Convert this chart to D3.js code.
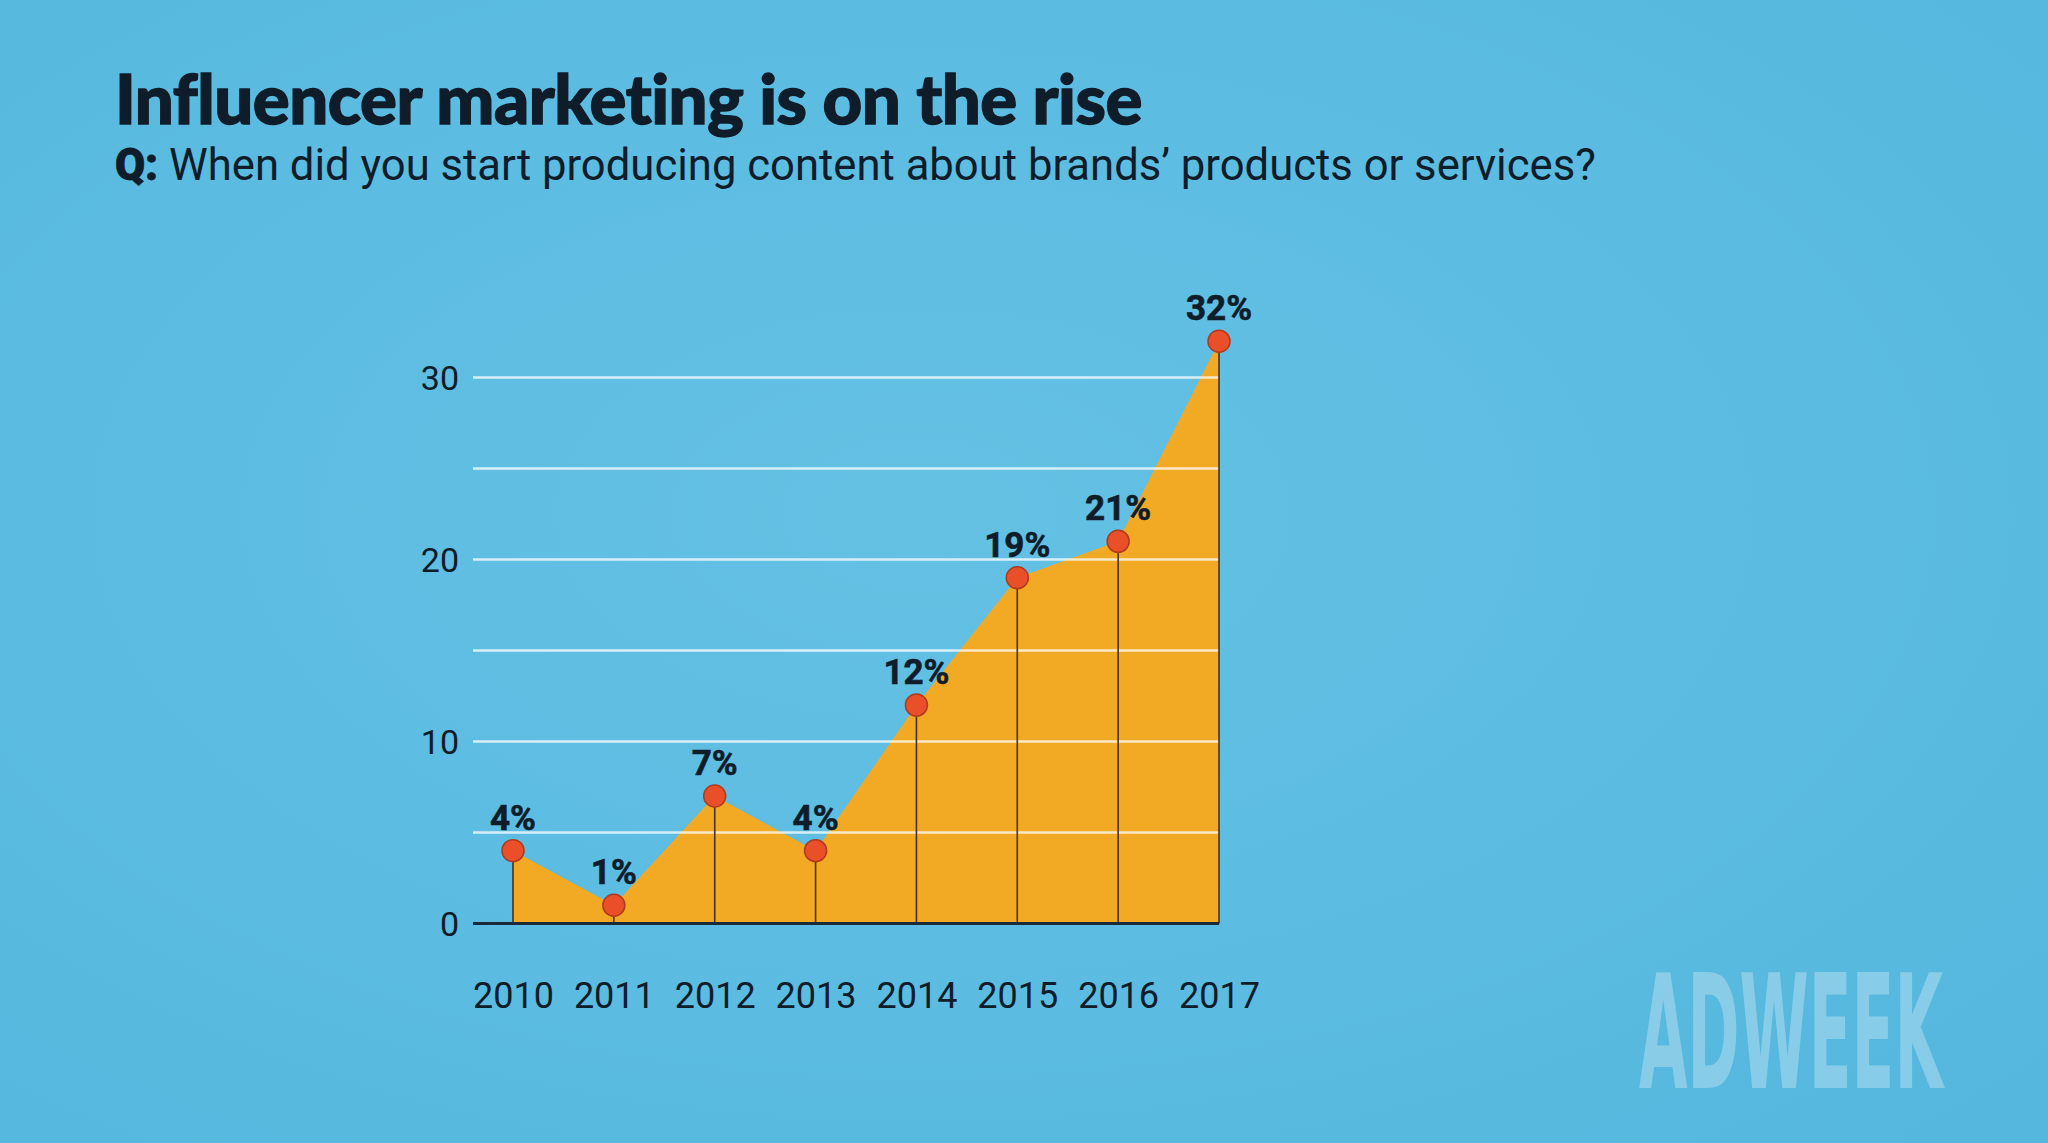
<!DOCTYPE html>
<html>
<head>
<meta charset="utf-8">
<script src="https://cdn.jsdelivr.net/npm/d3@7"></script>
<style>
  html, body { margin: 0; padding: 0; background: #5ebde2; }
  svg { display: block; }
</style>
</head>
<body>
<script>
// ---- data ----
const years = ["2010", "2011", "2012", "2013", "2014", "2015", "2016", "2017"];
const shares = [4, 1, 7, 4, 12, 19, 21, 32];
const valueLabels = ["4%", "1%", "7%", "4%", "12%", "19%", "21%", "32%"];
const gridValues = [5, 10, 15, 20, 25, 30];
const yTickValues = [0, 10, 20, 30];
const titleText = "Influencer marketing is on the rise";
const subtitleLead = "Q:";
const subtitleText = " When did you start producing content about brands\u2019 products or services?";
const brandText = "ADWEEK";

const W = 2048, H = 1143;
const svg = d3.select("body").append("svg").attr("width", W).attr("height", H);

// background
const defs = svg.append("defs");
const bg = defs.append("radialGradient").attr("id", "bg").attr("cx", "45%").attr("cy", "45%").attr("r", "75%");
bg.append("stop").attr("offset", "0%").attr("stop-color", "#64c1e4");
bg.append("stop").attr("offset", "100%").attr("stop-color", "#55b7de");
svg.append("rect").attr("width", W).attr("height", H).attr("fill", "url(#bg)");

const ink = "#0f1c29";
const font = "Roboto, 'Open Sans', sans-serif";

// scales
const x = d3.scalePoint().domain(years).range([513, 1219]);
const y = d3.scaleLinear().domain([0, 30]).range([923.4, 377.6]);
const gridLeft = 473, gridRight = 1219;

// area
const area = d3.area()
  .x((d, i) => x(years[i]))
  .y0(y(0))
  .y1(d => y(d));
svg.append("path").datum(shares)
  .attr("d", area)
  .attr("fill", "#f2a924");

// gridlines (on top of area, semi transparent)
svg.append("g").selectAll("line").data(gridValues).join("line")
  .attr("x1", gridLeft).attr("x2", gridRight)
  .attr("y1", d => y(d)).attr("y2", d => y(d))
  .attr("stroke", "#ffffff").attr("stroke-opacity", 0.75).attr("stroke-width", 2.5);

// y axis
const yAxis = d3.axisLeft(y).tickValues(yTickValues).tickSize(0).tickPadding(0).tickFormat(d3.format("d"));
const gy = svg.append("g").attr("transform", `translate(${459},0)`).call(yAxis);
gy.select(".domain").remove();
gy.selectAll("text")
  .attr("font-family", font)
  .attr("font-size", 34).attr("fill", ink).attr("dy", "0.36em");

// x axis
const xAxis = d3.axisBottom(x).tickSize(0).tickPadding(0);
const gx = svg.append("g").attr("transform", `translate(0,${982})`).call(xAxis);
gx.select(".domain").remove();
gx.selectAll("text")
  .attr("font-family", font)
  .attr("font-size", 36).attr("fill", ink).attr("dy", "0.71em");

// stems
svg.append("g").selectAll("line").data(shares).join("line")
  .attr("x1", (d, i) => x(years[i])).attr("x2", (d, i) => x(years[i]))
  .attr("y1", d => y(d)).attr("y2", y(0))
  .attr("stroke", "#4a3212").attr("stroke-width", 1.6);

// baseline
svg.append("line")
  .attr("x1", gridLeft).attr("x2", gridRight)
  .attr("y1", y(0)).attr("y2", y(0))
  .attr("stroke", "#1b2a3a").attr("stroke-width", 3);

// points
svg.append("g").selectAll("circle").data(shares).join("circle")
  .attr("cx", (d, i) => x(years[i])).attr("cy", d => y(d))
  .attr("r", 11)
  .attr("fill", "#e9502a").attr("stroke", "#b23a1c").attr("stroke-width", 1.5);

// value labels
svg.append("g").selectAll("text").data(shares).join("text")
  .attr("x", (d, i) => x(years[i])).attr("y", d => y(d) - 21)
  .attr("text-anchor", "middle")
  .attr("font-family", font)
  .attr("font-weight", 700).attr("font-size", 35).attr("fill", ink)
  .attr("stroke", ink).attr("stroke-width", 0.6)
  .text((d, i) => valueLabels[i]);

// helper to fit text to a target width
function fitWidth(sel, target) {
  const node = sel.node();
  const fs = parseFloat(sel.attr("font-size"));
  const w = node.getComputedTextLength();
  if (w > 0) sel.attr("font-size", fs * target / w);
}

// title
const title = svg.append("text")
  .attr("x", 115).attr("y", 124)
  .attr("font-family", "Lato, 'Open Sans', sans-serif")
  .attr("font-weight", 900).attr("font-size", 62).attr("fill", ink)
  .attr("stroke", ink).attr("stroke-width", 1.4)
  .attr("letter-spacing", -0.5)
  .text(titleText);
fitWidth(title, 1025);

// subtitle
const sub = svg.append("text")
  .attr("x", 115).attr("y", 180)
  .attr("font-family", font)
  .attr("font-size", 40).attr("fill", ink);
sub.append("tspan").attr("font-weight", 900).attr("stroke", ink).attr("stroke-width", 0.8).text(subtitleLead);
sub.append("tspan").attr("font-weight", 400).text(subtitleText);
fitWidth(sub, 1481);

// watermark: natural width measured, then scaled horizontally to the target box
const wm = svg.append("text")
  .attr("x", 0).attr("y", 0)
  .attr("font-family", "'Liberation Sans Narrow', 'DejaVu Sans Condensed', Roboto, sans-serif")
  .attr("font-weight", 700).attr("font-size", 158)
  .attr("fill", "#c4e4f3").attr("fill-opacity", 0.45)
  .text(brandText);
const wmW = wm.node().getComputedTextLength();
wm.attr("transform", `translate(1639,1088) scale(${304 / wmW},1)`);
</script>
</body>
</html>
